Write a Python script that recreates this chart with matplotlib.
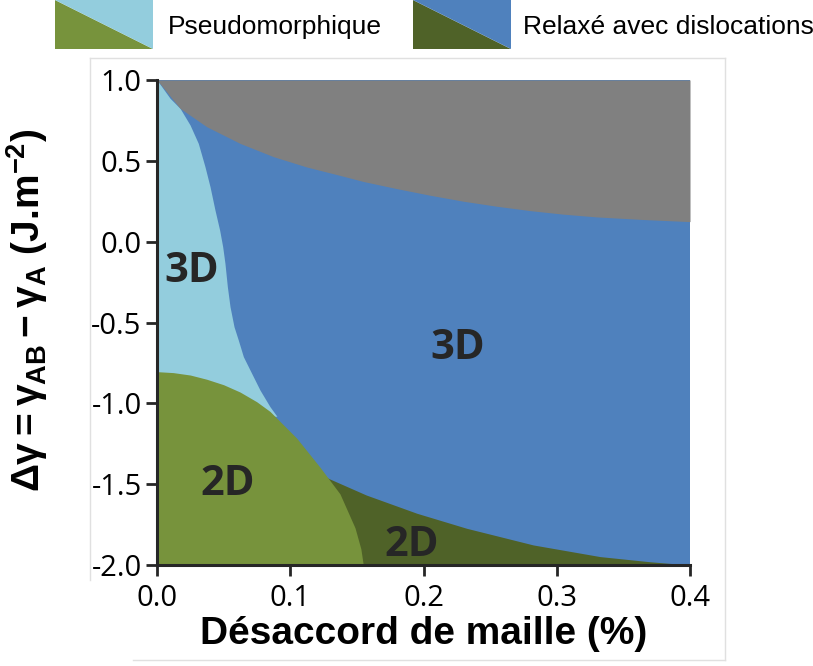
import matplotlib
matplotlib.use("Agg")
import matplotlib.pyplot as plt
from matplotlib.patches import Polygon
from matplotlib.lines import Line2D

# ---- data ----
# upper boundary (gray / relaxed 3D)
gray_x = [0.0, 0.0173, 0.0373, 0.0623, 0.0873, 0.1123, 0.1373, 0.155, 0.180, 0.205,
          0.230, 0.255, 0.280, 0.305, 0.330, 0.365, 0.40]
gray_y = [1.0, 0.825, 0.711, 0.608, 0.526, 0.462, 0.410, 0.372, 0.328, 0.287,
          0.250, 0.219, 0.192, 0.170, 0.153, 0.137, 0.124]
# pseudomorphic 3D / relaxed 3D boundary (x as function of y)
lb_y = [1.0, 0.887, 0.825, 0.722, 0.608, 0.464, 0.340, 0.196, 0.072, -0.031, -0.134,
        -0.278, -0.402, -0.526, -0.608, -0.711, -0.794, -0.918, -1.021, -1.08]
lb_x = [0.0, 0.0098, 0.0173, 0.0248, 0.0310, 0.0360, 0.0398, 0.0435, 0.0470, 0.0493, 0.0510,
        0.0528, 0.0548, 0.0578, 0.0610, 0.0648, 0.0698, 0.0773, 0.0848, 0.0900]
# pseudomorphic 2D boundary
gr_x = [0.0, 0.0122, 0.0250, 0.0373, 0.0500, 0.0623, 0.0748, 0.0848, 0.1048, 0.1223,
        0.1373, 0.1486, 0.1530, 0.1548]
gr_y = [-0.804, -0.810, -0.825, -0.851, -0.885, -0.930, -0.990, -1.050, -1.215, -1.395,
        -1.560, -1.770, -1.900, -2.0]
# relaxed 2D boundary
dg_x = [0.110, 0.1286, 0.157, 0.195, 0.2324, 0.2824, 0.3325, 0.370, 0.40]
dg_y = [-1.38, -1.464, -1.567, -1.680, -1.773, -1.876, -1.948, -1.980, -2.0]

xticks = [0.0, 0.1, 0.2, 0.3, 0.4]
yticks = [1.0, 0.5, 0.0, -0.5, -1.0, -1.5, -2.0]
region_labels = [("3D", 0.026, -0.185), ("3D", 0.226, -0.66),
                 ("2D", 0.053, -1.50), ("2D", 0.191, -1.88)]
legend_labels = ["Pseudomorphique", "Relaxé avec dislocations"]

C_GRAY = "#808080"
C_BLUE = "#4F81BD"
C_LBLUE = "#93CDDD"
C_GREEN = "#77933C"
C_DGREEN = "#4F6228"
TXT = "#262626"

plt.rcParams['mathtext.fontset'] = 'custom'
plt.rcParams['mathtext.rm'] = 'Liberation Sans:bold'
plt.rcParams['mathtext.it'] = 'Liberation Sans:bold'
plt.rcParams['mathtext.bf'] = 'Liberation Sans:bold'

fig = plt.figure(figsize=(8.13, 6.66), dpi=100)
ax = fig.add_axes([157/813, 1-565/666, 533/813, 485/666])
ax.set_xlim(0, 0.4)
ax.set_ylim(-2.0, 1.0)
ax.set_facecolor(C_BLUE)

ax.fill_betweenx(lb_y, 0, lb_x, color=C_LBLUE, lw=0)
ax.fill_between(gray_x, gray_y, 1.0, color=C_GRAY, lw=0)
ax.fill_between(dg_x, -2.0, dg_y, color=C_DGREEN, lw=0)
ax.fill_between(gr_x, -2.0, gr_y, color=C_GREEN, lw=0)

for t, x, y in region_labels:
    ax.text(x, y, t, ha='center', va='center', fontsize=30, fontweight='bold',
            family='Open Sans', color=TXT)

for s in ['top', 'right']:
    ax.spines[s].set_visible(False)
for s in ['left', 'bottom']:
    ax.spines[s].set_color(TXT)
    ax.spines[s].set_linewidth(2.2)
    ax.spines[s].set_zorder(5)
ax.set_xticks(xticks)
ax.set_yticks(yticks)
ax.set_xticklabels([f"{v:.1f}" for v in xticks], family='Open Sans', fontsize=21)
ax.set_yticklabels([f"{v:.1f}" for v in yticks], family='Open Sans', fontsize=21)
ax.tick_params(axis='x', direction='out', length=8, width=2, color=TXT, labelcolor='black', pad=6)
ax.tick_params(axis='y', direction='out', length=8, width=2, color=TXT, labelcolor='black', pad=3)

ax.set_xlabel("Désaccord de maille (%)", family='Liberation Sans', fontweight='bold',
              fontsize=28, labelpad=2)
ax.set_ylabel("$Δγ = γ_{AB} − γ_{A}$ (J.m$^{-2}$)", family='Liberation Sans',
              fontweight='bold', fontsize=28, labelpad=18)
ax.yaxis.set_label_coords(-0.2, 0.525)

# faint frame lines from the original chart area
fig.add_artist(Line2D([90/813, 90/813], [1-58/666, 1-580/666], color='#e0e0e0', lw=1))
fig.add_artist(Line2D([90/813, 725/813], [1-58/666, 1-58/666], color='#e0e0e0', lw=1))
fig.add_artist(Line2D([725/813, 725/813], [1-58/666, 1-660/666], color='#e0e0e0', lw=1))
fig.add_artist(Line2D([133/813, 725/813], [1-660/666, 1-660/666], color='#e0e0e0', lw=1))

def swatch(x0, x1, y0, y1, c_low, c_up):
    X0, X1 = x0/813, x1/813
    Y0, Y1 = 1-y1/666, 1-y0/666
    fig.add_artist(Polygon([[X0, Y1], [X1, Y0], [X0, Y0]], closed=True,
                           facecolor=c_low, edgecolor='none', transform=fig.transFigure))
    fig.add_artist(Polygon([[X0, Y1], [X1, Y1], [X1, Y0]], closed=True,
                           facecolor=c_up, edgecolor='none', transform=fig.transFigure))

swatch(55, 153, 0, 49, C_GREEN, C_LBLUE)
swatch(413, 511, 0, 49, C_DGREEN, C_BLUE)
fig.text(168/813, 1-27/666, legend_labels[0], family='Liberation Sans', fontsize=19,
         va='center', ha='left', color='black')
fig.text(523/813, 1-27/666, legend_labels[1], family='Liberation Sans', fontsize=19,
         va='center', ha='left', color='black')

fig.savefig("out.png", dpi=100)
